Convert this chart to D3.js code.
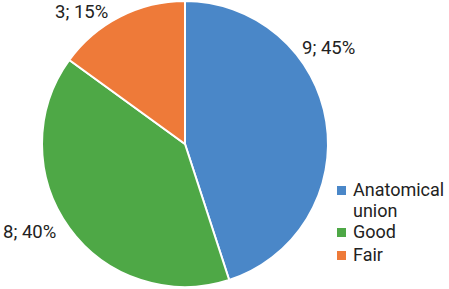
<!DOCTYPE html>
<html><head><meta charset="utf-8">
<script src="https://cdn.jsdelivr.net/npm/d3@7"></script>
<style>body{margin:0;background:#fff}svg{display:block}</style>
</head><body>
<svg id="c" width="449" height="289"></svg>
<script>
const categories = ["Anatomical union", "Good", "Fair"];
const counts = [9, 8, 3];
const percents = ["45%", "40%", "15%"];
const colors = ["#4a87c8", "#4ea846", "#ee7a39"];

const svg = d3.select("#c");
const cx = 185, cy = 144, r = 143;
const pie = d3.pie().sort(null)(counts);
const arc = d3.arc().innerRadius(0).outerRadius(r);
const g = svg.append("g").attr("transform", `translate(${cx},${cy})`);
g.selectAll("path").data(pie).enter().append("path")
  .attr("d", arc).attr("fill", (d,i)=>colors[i])
  .attr("stroke", "#fff").attr("stroke-width", 2);

const labelPos = [[302, 54], [3, 238], [55, 18]];
svg.selectAll("text.lbl").data(pie).enter().append("text")
  .attr("class","lbl")
  .attr("x", (d,i)=>labelPos[i][0]).attr("y", (d,i)=>labelPos[i][1])
  .attr("font-family", "Roboto, sans-serif").attr("font-size", 18.5).attr("fill", "#222")
  .text((d,i)=>`${counts[i]}; ${percents[i]}`);

const legendLines = [["Anatomical","union"],["Good"],["Fair"]];
const legendY = [196, 238, 261];
const lg = svg.append("g");
legendLines.forEach((lines, i) => {
  lg.append("rect").attr("x", 337).attr("y", legendY[i]-10).attr("width", 9).attr("height", 9).attr("fill", colors[i]);
  lines.forEach((s, j) => {
    lg.append("text").attr("x", 353).attr("y", legendY[i] + j*21)
      .attr("font-family", "Roboto, sans-serif").attr("font-size", 18).attr("fill", "#222").text(s);
  });
});
</script>
</body></html>
